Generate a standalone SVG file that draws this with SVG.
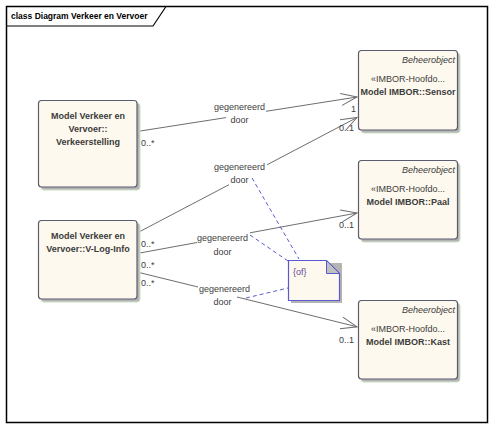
<svg xmlns="http://www.w3.org/2000/svg" width="493" height="429" viewBox="0 0 493 429">
<style>
text{font-family:"Liberation Sans",Arial,sans-serif;font-size:9px;fill:#3c3c3c}
.b{font-weight:bold}
.i{font-style:italic}
.node{fill:#fef9ee;stroke:#5c5c70;stroke-width:1.2}
.shadow{fill:#b4b4b4;stroke:#cfe3c8;stroke-width:1}
.conn{stroke:#6e6e6e;stroke-width:1;fill:none}
.dash{stroke:#5a5ad0;stroke-width:1;stroke-dasharray:4,3;fill:none}
.lbl{fill:#404040}
</style>
<defs>
<marker id="open" viewBox="-17 -7 19 14" refX="0" refY="0" markerWidth="19" markerHeight="14" markerUnits="userSpaceOnUse" orient="auto">
<path d="M-16,-6 L0,0 L-16,6" fill="none" stroke="#6e6e6e" stroke-width="1"/>
</marker>
</defs>
<rect x="0" y="0" width="493" height="429" fill="#ffffff"/>
<g id="frame">
<rect x="6.5" y="6.5" width="481" height="416" fill="none" stroke="#000" stroke-width="1.5"/>
<path d="M6.5,26 L153,26 L166,6.5" fill="none" stroke="#000" stroke-width="1.2"/>
<text x="11" y="19" class="b" style="font-size:8.5px;fill:#000">class Diagram Verkeer en Vervoer</text>
</g>
<g id="connectors">
<line class="conn" x1="137" y1="131.5" x2="226" y2="117.6"/>
<line class="conn" x1="266" y1="111.3" x2="357" y2="97" marker-end="url(#open)"/>
<text x="239.5" y="110" text-anchor="middle" class="lbl">gegenereerd</text>
<text x="239.5" y="123" text-anchor="middle" class="lbl">door</text>
<text x="141" y="146">0..*</text>
<text x="351" y="112">1</text>

<line class="conn" x1="137" y1="233" x2="229" y2="184.7"/>
<line class="conn" x1="267" y1="164.8" x2="357" y2="117.5" marker-end="url(#open)"/>
<text x="239.5" y="170" text-anchor="middle" class="lbl">gegenereerd</text>
<text x="239.5" y="183" text-anchor="middle" class="lbl">door</text>
<text x="339" y="131">0..1</text>
<text x="141" y="247">0..*</text>

<line class="conn" x1="137" y1="253.5" x2="197" y2="242.5"/>
<line class="conn" x1="250" y1="232.8" x2="357" y2="213" marker-end="url(#open)"/>
<text x="222.5" y="241" text-anchor="middle" class="lbl">gegenereerd</text>
<text x="222.5" y="255" text-anchor="middle" class="lbl">door</text>
<text x="339" y="228">0..1</text>
<text x="141" y="268">0..*</text>

<line class="conn" x1="137" y1="272" x2="198" y2="287"/>
<line class="conn" x1="237" y1="297" x2="357" y2="326.8" marker-end="url(#open)"/>
<text x="224.5" y="292" text-anchor="middle" class="lbl">gegenereerd</text>
<text x="222.5" y="305" text-anchor="middle" class="lbl">door</text>
<text x="339" y="343">0..1</text>
<text x="141" y="286">0..*</text>

<line class="dash" x1="252" y1="178" x2="299" y2="259"/>
<line class="dash" x1="250" y1="235" x2="288" y2="261"/>
<line class="dash" x1="246" y1="298" x2="288" y2="288"/>
</g>
<g id="verkeerstelling">
<rect class="shadow" x="41" y="103" width="99" height="87" rx="3"/>
<rect class="node" x="38.5" y="100.5" width="98.5" height="86.5" rx="3"/>
<text x="88" y="119" text-anchor="middle" class="b">Model Verkeer en</text>
<text x="88" y="132" text-anchor="middle" class="b">Vervoer::</text>
<text x="88" y="145" text-anchor="middle" class="b">Verkeerstelling</text>
</g>
<g id="vloginfo">
<rect class="shadow" x="41" y="223" width="99" height="79" rx="3"/>
<rect class="node" x="38.5" y="220.5" width="98.5" height="78.5" rx="3"/>
<text x="88" y="239" text-anchor="middle" class="b">Model Verkeer en</text>
<text x="88" y="252" text-anchor="middle" class="b">Vervoer::V-Log-Info</text>
</g>
<g id="sensor">
<rect class="shadow" x="361" y="53" width="99" height="80" rx="3"/>
<rect class="node" x="358.5" y="50.5" width="99" height="79.5" rx="3"/>
<text x="455" y="63" text-anchor="end" class="i">Beheerobject</text>
<text x="408" y="82" text-anchor="middle">«IMBOR-Hoofdo...</text>
<text x="408" y="95" text-anchor="middle" class="b">Model IMBOR::Sensor</text>
</g>
<g id="paal">
<rect class="shadow" x="361" y="163" width="99" height="79" rx="3"/>
<rect class="node" x="358.5" y="160.5" width="99" height="78.5" rx="3"/>
<text x="455" y="173" text-anchor="end" class="i">Beheerobject</text>
<text x="408" y="192" text-anchor="middle">«IMBOR-Hoofdo...</text>
<text x="408" y="205" text-anchor="middle" class="b">Model IMBOR::Paal</text>
</g>
<g id="kast">
<rect class="shadow" x="361" y="303" width="99" height="79" rx="3"/>
<rect class="node" x="358.5" y="300.5" width="99" height="78.5" rx="3"/>
<text x="455" y="313" text-anchor="end" class="i">Beheerobject</text>
<text x="408" y="332" text-anchor="middle">«IMBOR-Hoofdo...</text>
<text x="408" y="345" text-anchor="middle" class="b">Model IMBOR::Kast</text>
</g>
<g id="note">
<rect x="291" y="263" width="51" height="40" fill="#b4b4b4"/>
<path d="M288.5,260.5 L326.5,260.5 L339.5,273.5 L339.5,300.5 L288.5,300.5 Z" fill="#fef9ee" stroke="#5a5ad0" stroke-width="1.2"/>
<path d="M326.5,260.5 L326.5,273.5 L339.5,273.5 Z" fill="#c0c0c0" stroke="#5a5ad0" stroke-width="1"/>
<text x="293" y="275" style="fill:#6a4a9a">{of}</text>
</g>
</svg>
